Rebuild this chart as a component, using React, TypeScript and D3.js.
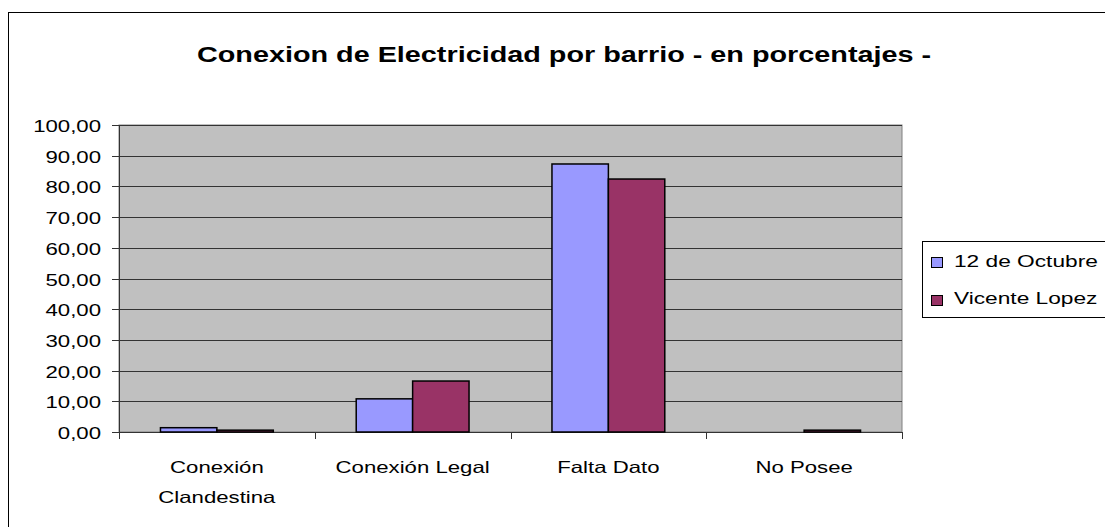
import React from "react";
import * as d3 from "d3";

const categories = ["Conexión Clandestina", "Conexión Legal", "Falta Dato", "No Posee"];
const categoryLines = [["Conexión", "Clandestina"], ["Conexión Legal"], ["Falta Dato"], ["No Posee"]];
const seriesNames = ["12 de Octubre", "Vicente Lopez"];
const octubre = [1.4, 10.8, 87.3, 0];
const vicente = [0.6, 16.6, 82.4, 0.6];
const yTicks = [0, 10, 20, 30, 40, 50, 60, 70, 80, 90, 100];
const colors = ["#9999FF", "#993366"];
const title = "Conexion de Electricidad por barrio - en porcentajes -";

function T({ x, y, size, sx = 1.33, anchor = "start", bold = false, children }: any) {
  return (
    <text
      transform={`translate(${x},${y}) scale(${sx},1)`}
      textAnchor={anchor}
      fontSize={size}
      fontWeight={bold ? "bold" : "normal"}
    >
      {children}
    </text>
  );
}

export default function App() {
  const W = 1105, H = 527;
  const left = 119, right = 902, top = 125, bottom = 432;
  const x = d3.scaleBand<string>().domain(categories).range([left, right]);
  const y = d3.scaleLinear().domain([0, 100]).range([bottom, top]);
  const bw = x.bandwidth();
  const barW = bw / 3.47;
  const series = [octubre, vicente];
  const fmt = (v: number) => v.toFixed(2).replace(".", ",");
  const font = "Liberation Sans, Arial, sans-serif";
  return (
    <svg width={W} height={H} style={{ position: "absolute", left: 0, top: 0 }} fontFamily={font}>
      <rect x={0} y={0} width={W} height={H} fill="#fff" />
      <rect x={8.5} y={12.5} width={W + 20} height={H + 20} fill="#fff" stroke="#000" strokeWidth={1} />
      <T x={564} y={62} size={22.5} sx={1.28} anchor="middle" bold>{title}</T>
      <rect x={left} y={top} width={right - left} height={bottom - top} fill="#C0C0C0" stroke="#808080" strokeWidth={1} />
      {yTicks.map((t) => (
        <g key={t}>
          <line x1={left} x2={right} y1={Math.round(y(t)) + 0.5} y2={Math.round(y(t)) + 0.5} stroke="#333" strokeWidth={1} />
          <line x1={left - 7} x2={left} y1={Math.round(y(t)) + 0.5} y2={Math.round(y(t)) + 0.5} stroke="#333" />
          <T x={101} y={y(t) + 7} size={16.7} anchor="end">{fmt(t)}</T>
        </g>
      ))}
      <line x1={left + 0.5} x2={left + 0.5} y1={top} y2={bottom} stroke="#333" />
      <line x1={left} x2={right} y1={bottom + 0.5} y2={bottom + 0.5} stroke="#333" />
      {[...categories.map((c) => x(c) as number), right].map((px, i) => (
        <line key={i} x1={Math.round(px) + 0.5} x2={Math.round(px) + 0.5} y1={bottom} y2={bottom + 7} stroke="#333" />
      ))}
      {categories.map((c, ci) =>
        series.map((s, si) => {
          const x0 = (x(c) as number) + (bw - 2 * barW) / 2 + si * barW;
          const yt = y(s[ci]);
          if (s[ci] <= 0) return null;
          return (
            <rect key={c + si} x={x0} y={yt} width={barW} height={bottom - yt} fill={colors[si]} stroke="#000" strokeWidth={1.5} />
          );
        })
      )}
      {categories.map((c, ci) =>
        categoryLines[ci].map((l, li) => (
          <T key={c + li} x={(x(c) as number) + bw / 2} y={473 + li * 30} size={16.7} anchor="middle">{l}</T>
        ))
      )}
      <rect x={922.5} y={241.5} width={200} height={76} fill="#fff" stroke="#000" />
      {seriesNames.map((n, i) => (
        <g key={n}>
          <rect x={931.5} y={257.5 + i * 38} width={11} height={10} fill={colors[i]} stroke="#000" strokeWidth={1} />
          <T x={954} y={267 + i * 37} size={16.7} sx={1.36}>{n}</T>
        </g>
      ))}
    </svg>
  );
}
